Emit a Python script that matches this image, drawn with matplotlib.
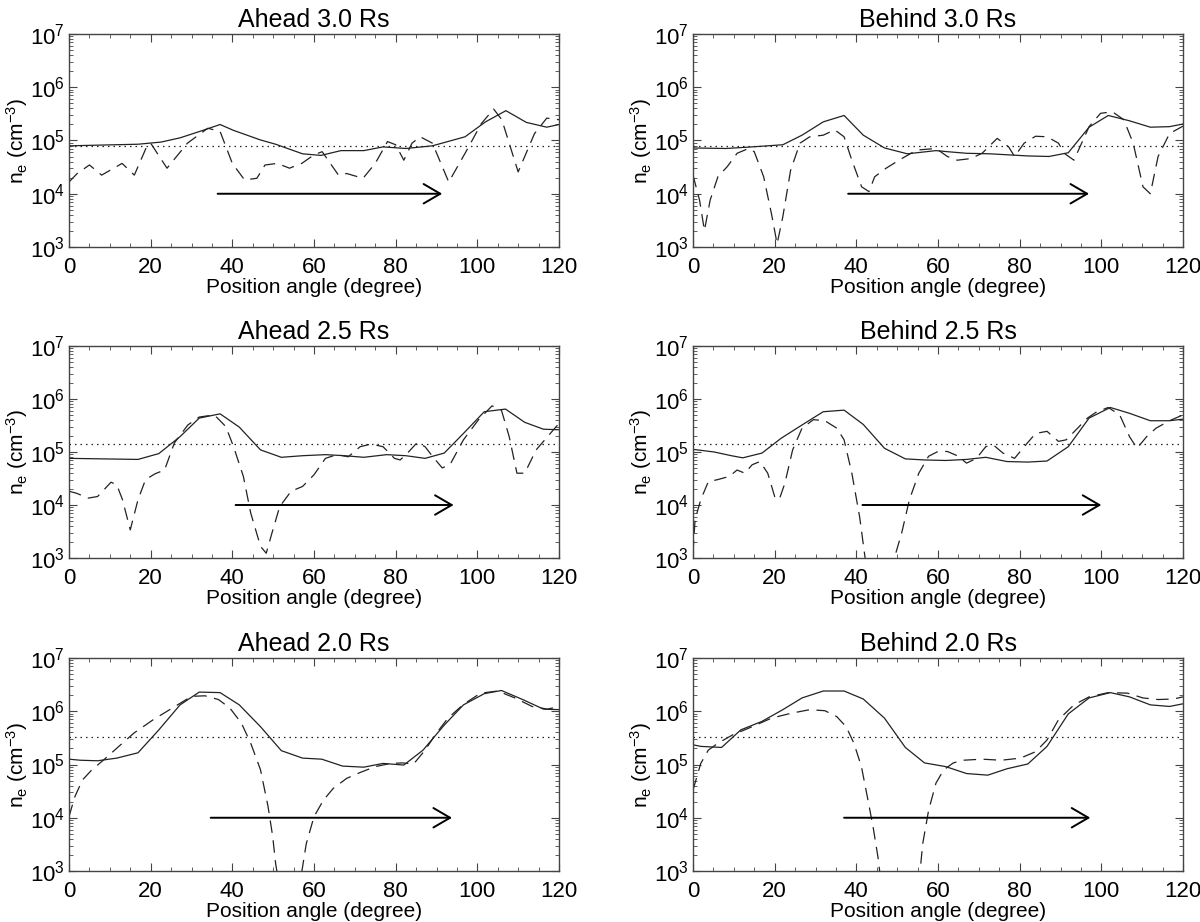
import numpy as np
import matplotlib
matplotlib.use("Agg")
import matplotlib.pyplot as plt
from matplotlib.ticker import MultipleLocator, LogLocator, NullFormatter

plt.rcParams['font.family'] = 'Liberation Sans'
plt.rcParams['mathtext.fontset'] = 'custom'
plt.rcParams['mathtext.rm'] = 'Liberation Sans'
plt.rcParams['mathtext.it'] = 'Liberation Sans:italic'

# values are log10(ne)

# Ahead 3.0 Rs
a30_sx = [0, 16.9, 22.5, 27.2, 32, 37, 40.3, 46.9, 50.6, 57.2, 61.7, 66.6, 72.2, 76.9, 82.5, 89, 97, 102, 107, 112, 117, 120]
a30_sy = [4.90, 4.93, 4.97, 5.05, 5.17, 5.30, 5.19, 5.01, 4.93, 4.75, 4.72, 4.81, 4.81, 4.88, 4.85, 4.90, 5.07, 5.35, 5.56, 5.34, 5.25, 5.30]
a30_dx = [0, 2, 5, 8, 13, 16, 19, 20, 24, 29, 34, 37, 40, 43, 46, 48, 51, 54, 57, 60, 62, 66, 68, 72, 75, 78, 80, 82, 84, 86, 89, 93, 97, 101, 104, 106, 110, 114, 117, 120]
a30_dy = [4.22, 4.38, 4.54, 4.35, 4.57, 4.35, 4.88, 4.95, 4.48, 4.95, 5.23, 5.17, 4.57, 4.26, 4.29, 4.54, 4.57, 4.48, 4.57, 4.73, 4.79, 4.35, 4.38, 4.29, 4.57, 4.98, 4.92, 4.63, 4.95, 5.07, 4.95, 4.22, 4.76, 5.32, 5.59, 5.39, 4.41, 5.13, 5.42, 5.39]

# Behind 3.0 Rs
b30_sx = [0, 8, 14.5, 22, 26.7, 31.9, 37, 41.7, 46.9, 52.5, 59.5, 62.3, 67, 72.7, 82, 87.2, 91.9, 97, 101.7, 106.9, 112, 116.7, 120]
b30_sy = [4.86, 4.85, 4.88, 4.92, 5.10, 5.35, 5.47, 5.10, 4.86, 4.75, 4.81, 4.79, 4.76, 4.75, 4.71, 4.70, 4.77, 5.25, 5.47, 5.37, 5.25, 5.26, 5.31]
b30_dx = [0, 1.6, 2.8, 4.2, 6.1, 8.4, 10.8, 13.6, 15, 17.3, 19.2, 20.6, 22, 23.9, 26.2, 28.6, 31.9, 34.7, 37, 38.9, 41.3, 43.1, 44.5, 47.3, 51.1, 54.8, 59.5, 62.3, 64.7, 68, 70.8, 74.5, 77.3, 78.75, 81.1, 83.9, 86.7, 89.5, 90.9, 93.3, 97, 99.8, 102.7, 105.5, 107.8, 110.2, 112, 113.9, 116.7, 120]
b30_dy = [4.35, 3.88, 3.31, 3.88, 4.32, 4.51, 4.76, 4.85, 4.79, 4.32, 3.63, 3.06, 3.57, 4.44, 4.95, 5.07, 5.10, 5.20, 5.07, 4.63, 4.13, 4.04, 4.32, 4.48, 4.66, 4.82, 4.85, 4.70, 4.63, 4.66, 4.76, 5.04, 4.88, 4.70, 4.95, 5.08, 5.07, 4.95, 4.76, 4.63, 5.26, 5.51, 5.54, 5.39, 4.95, 4.13, 4.00, 4.70, 5.13, 5.27]

# Ahead 2.5 Rs
a25_sx = [0, 16.9, 22, 27.2, 31.9, 37, 41.7, 46.9, 52, 57.2, 62.8, 67.5, 72.2, 77.8, 82.5, 87.2, 91.9, 96.6, 101.7, 106.9, 111.6, 116.2, 120]
a25_sy = [4.88, 4.86, 4.97, 5.29, 5.64, 5.72, 5.47, 5.04, 4.90, 4.93, 4.95, 4.93, 4.90, 4.95, 4.93, 4.88, 4.98, 5.35, 5.76, 5.81, 5.56, 5.43, 5.42]
a25_dx = [0, 1.9, 4.7, 7, 10.3, 11.7, 13.1, 15, 16.9, 18.75, 21.1, 23.4, 25.8, 29.1, 31.9, 35.6, 38.4, 40.3, 42.7, 44.5, 46.9, 48.3, 49.7, 51.6, 54.4, 57.2, 60, 62.8, 65.6, 68.4, 71.3, 74, 76.9, 79.7, 81.1, 82.9, 85.3, 87.2, 89.1, 91.4, 93.3, 96.6, 100.3, 103.6, 105.9, 107.8, 109.7, 111.6, 114.4, 117.2, 120]
a25_dy = [4.26, 4.22, 4.13, 4.16, 4.43, 4.38, 4.10, 3.53, 4.10, 4.48, 4.59, 4.66, 5.17, 5.51, 5.66, 5.70, 5.48, 5.10, 4.54, 3.85, 3.22, 3.09, 3.47, 3.97, 4.26, 4.35, 4.57, 4.88, 4.95, 4.91, 5.10, 5.15, 5.10, 4.88, 4.85, 4.98, 5.18, 5.10, 4.91, 4.70, 4.76, 5.23, 5.61, 5.87, 5.79, 5.29, 4.60, 4.60, 5.04, 5.29, 5.54]

# Behind 2.5 Rs
b25_sx = [0, 5.2, 9.4, 12.2, 16.9, 21.6, 26.7, 31.9, 37, 41.7, 46.9, 52, 56.7, 61.9, 67, 71.7, 76.9, 82, 86.7, 91.9, 97, 102.2, 106.9, 112, 116.7, 120]
b25_sy = [5.05, 5.00, 4.93, 4.89, 4.98, 5.26, 5.51, 5.76, 5.79, 5.52, 5.07, 4.87, 4.85, 4.84, 4.86, 4.90, 4.82, 4.81, 4.83, 5.10, 5.64, 5.84, 5.73, 5.59, 5.59, 5.62]
b25_dx = [0, 0.5, 1.9, 3.75, 6.1, 8.9, 10.8, 12.7, 14.5, 16.4, 18.3, 20, 21.1, 22.5, 24.4, 26.7, 29.5, 32.3, 35.2, 37, 38.9, 40.8, 42.2, 44, 47, 49.2, 51.1, 53, 55.3, 57.7, 60, 62.3, 64.7, 67, 69.4, 71.7, 73.6, 75.9, 78.75, 81.1, 83.9, 86.7, 89.5, 91.4, 94.2, 96.6, 98.9, 101.7, 104.5, 106.9, 108.75, 111.1, 113.4, 116.7, 120]
b25_dy = [3.09, 3.72, 4.10, 4.44, 4.48, 4.54, 4.66, 4.60, 4.76, 4.82, 4.60, 4.16, 4.10, 4.41, 5.04, 5.45, 5.61, 5.59, 5.45, 5.23, 4.60, 3.78, 2.97, 2.5, 2.5, 2.97, 3.47, 4.10, 4.60, 4.92, 5.01, 5.01, 4.93, 4.79, 4.88, 5.10, 5.13, 4.98, 4.88, 5.10, 5.35, 5.39, 5.20, 5.23, 5.45, 5.64, 5.76, 5.84, 5.70, 5.29, 5.07, 5.29, 5.45, 5.59, 5.70]

# Ahead 2.0 Rs
a20_sx = [0, 2.8, 7, 11.7, 16.9, 22, 27.2, 31.9, 37, 41.7, 46.9, 52, 57.2, 61.9, 67, 72.2, 76.9, 82, 86.7, 91.9, 96.6, 101.7, 105.9, 111.1, 116.2, 120]
a20_sy = [5.10, 5.08, 5.07, 5.12, 5.22, 5.65, 6.12, 6.36, 6.35, 6.12, 5.71, 5.26, 5.12, 5.10, 4.97, 4.95, 5.02, 4.99, 5.27, 5.74, 6.12, 6.33, 6.39, 6.22, 6.04, 6.03]
a20_dx = [0, 1.4, 3.3, 5.6, 8.4, 12.2, 15.9, 20.6, 25.3, 30, 33.3, 36.6, 39.4, 42.2, 44.5, 46.9, 48.75, 49.9, 50.6, 52, 56, 58.1, 60, 62.3, 64.7, 68, 71.3, 75, 78.75, 81.6, 84.4, 87.2, 90, 92.8, 96.6, 100.8, 105, 109.2, 113.4, 117.2, 120]
a20_dy = [4.02, 4.39, 4.71, 4.90, 5.08, 5.34, 5.59, 5.84, 6.06, 6.28, 6.29, 6.22, 6.06, 5.78, 5.40, 4.90, 4.21, 3.64, 3.14, 2.5, 2.5, 3.51, 4.02, 4.33, 4.55, 4.74, 4.85, 4.96, 5.02, 5.03, 5.01, 5.27, 5.59, 5.87, 6.13, 6.34, 6.38, 6.25, 6.09, 6.04, 6.09]

# Behind 2.0 Rs
b20_sx = [0, 1.9, 7, 11.7, 16.9, 22, 26.7, 31.9, 37, 41.7, 46.9, 52, 56.7, 61.9, 67, 72.2, 76.9, 82, 86.7, 91.9, 97, 102.2, 106.9, 112, 116.7, 120]
b20_sy = [5.37, 5.34, 5.32, 5.65, 5.81, 6.03, 6.25, 6.38, 6.38, 6.23, 5.87, 5.32, 5.03, 4.96, 4.83, 4.80, 4.92, 5.01, 5.34, 5.95, 6.25, 6.35, 6.27, 6.12, 6.09, 6.14]
b20_dx = [0, 1.9, 3.75, 6.1, 9.8, 14.5, 19.2, 23.9, 28.6, 32.3, 35.2, 37.5, 39.4, 41.25, 42.7, 44.1, 45.3, 46.5, 55, 56.25, 57.7, 59.5, 61.4, 63.75, 66.1, 70.8, 75.5, 80.2, 83.9, 86.7, 89.5, 93.3, 97, 101.7, 106.4, 110.2, 113.9, 117.7, 120]
b20_dy = [4.52, 5.02, 5.27, 5.40, 5.56, 5.71, 5.87, 5.96, 6.03, 6.01, 5.90, 5.71, 5.40, 4.96, 4.39, 3.83, 3.26, 2.5, 2.5, 3.51, 4.14, 4.65, 4.90, 5.03, 5.08, 5.10, 5.08, 5.12, 5.24, 5.46, 5.84, 6.12, 6.27, 6.35, 6.34, 6.25, 6.22, 6.23, 6.27]

titles = ['Ahead 3.0 Rs', 'Behind 3.0 Rs', 'Ahead 2.5 Rs', 'Behind 2.5 Rs', 'Ahead 2.0 Rs', 'Behind 2.0 Rs']
levels = [4.90, 4.90, 5.15, 5.15, 5.51, 5.51]
arrow_start = [36.4, 38.0, 40.8, 41.5, 34.7, 37.0]
arrow_end = [91.4, 97.0, 94.2, 100.0, 93.8, 97.3]

solid = [(a30_sx, a30_sy), (b30_sx, b30_sy), (a25_sx, a25_sy), (b25_sx, b25_sy), (a20_sx, a20_sy), (b20_sx, b20_sy)]
dashed = [(a30_dx, a30_dy), (b30_dx, b30_dy), (a25_dx, a25_dy), (b25_dx, b25_dy), (a20_dx, a20_dy), (b20_dx, b20_dy)]

W, H = 1200, 922
fig = plt.figure(figsize=(12, 9.22), dpi=100)
lefts = [69, 693]
rows = [(34, 247), (346, 558), (658, 871)]
ink = '#222222'

for i in range(6):
    r, c = divmod(i, 2)
    top, bot = rows[r]
    ax = fig.add_axes([lefts[c] / W, (H - bot) / H, 490 / W, (bot - top) / H])
    sx, sy = solid[i]
    dx, dy = dashed[i]
    ax.plot(sx, 10 ** np.array(sy), color=ink, lw=0.9)
    ax.plot(dx, 10 ** np.array(dy), color=ink, lw=0.9, linestyle=(0, (10, 6)))
    ax.axhline(10 ** levels[i], color=ink, lw=0.9, linestyle=(0, (1.2, 3.2)))
    ax.annotate('', xy=(arrow_end[i], 1e4), xytext=(arrow_start[i], 1e4),
                arrowprops=dict(arrowstyle='->,head_length=1.2,head_width=0.7',
                                lw=1.4, color='black', shrinkA=0, shrinkB=0,
                                mutation_scale=10))
    ax.set_yscale('log')
    ax.set_xlim(0, 120)
    ax.set_ylim(1e3, 1e7)
    ax.xaxis.set_major_locator(MultipleLocator(20))
    ax.xaxis.set_minor_locator(MultipleLocator(5))
    ax.yaxis.set_major_locator(LogLocator(base=10, numticks=10))
    ax.yaxis.set_minor_locator(LogLocator(base=10, subs=np.arange(2, 10), numticks=10))
    ax.yaxis.set_minor_formatter(NullFormatter())
    ax.tick_params(which='both', direction='in', top=True, right=True, color='#444444', labelsize=16)
    ax.tick_params(which='major', length=6)
    ax.tick_params(which='minor', length=3)
    ax.tick_params(axis='x', pad=7)
    ax.tick_params(axis='y', pad=3)
    for s in ax.spines.values():
        s.set_color('#444444')
        s.set_linewidth(1.0)
    ax.set_title(titles[i], fontsize=18, pad=5)
    ax.set_xlabel('Position angle (degree)', fontsize=15, labelpad=0)
    ax.set_ylabel(r'n$_\mathregular{e}$ (cm$^\mathregular{-3}$)', fontsize=15, labelpad=0)

fig.savefig('out.png', dpi=100)
